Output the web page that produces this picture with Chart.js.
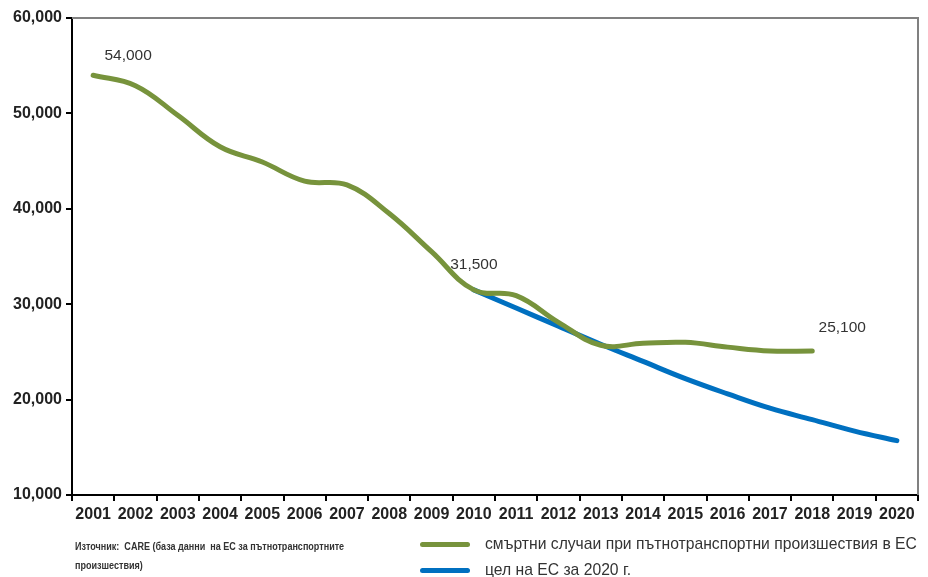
<!DOCTYPE html>
<html>
<head>
<meta charset="utf-8">
<script src="https://cdn.jsdelivr.net/npm/chart.js@4/dist/chart.umd.min.js"></script>
<style>
  html, body { margin: 0; padding: 0; background: #fff; }
  #wrap { position: relative; width: 928px; height: 577px; }
  #chart { position: absolute; left: 0; top: 0; }
  .source {
    position: absolute; left: 75px; top: 537px; white-space: nowrap;
    font-family: 'Liberation Sans Narrow', 'Liberation Sans', sans-serif;
    font-weight: bold; font-size: 10.5px; line-height: 19px; color: #333;
    transform: scaleX(0.86); transform-origin: left top;
  }
  .leg { position: absolute; left: 420px; display: flex; align-items: center; white-space: nowrap;
    font-family: 'Liberation Sans', Arial, sans-serif; font-size: 15.7px; color: #333; }
  .leg .swatch { width: 50px; height: 5px; border-radius: 3px; margin-right: 15px; }
</style>
</head>
<body>
<div id="wrap">
  <canvas id="chart" width="928" height="577"></canvas>
  <div class="source">Източник:&nbsp; CARE (база данни&nbsp; на ЕС за пътнотранспортните<br>произшествия)</div>
  <div class="leg" style="top:535px"><span class="swatch" style="background:#77933C"></span>смъртни случаи при пътнотранспортни произшествия в ЕС</div>
  <div class="leg" style="top:561px"><span class="swatch" style="background:#0070C0"></span>цел на ЕС за 2020 г.</div>
</div>
<script>
const years = ['2001', '2002', '2003', '2004', '2005', '2006', '2007', '2008', '2009', '2010',
  '2011', '2012', '2013', '2014', '2015', '2016', '2017', '2018', '2019', '2020'];
const fatalities = [54000, 52900, 49800, 46500, 44900, 42900, 42500, 39500, 35500, 31500,
  30900, 28100, 25700, 25900, 26000, 25500, 25100, 25100, null, null];
const target2020 = [null, null, null, null, null, null, null, null, null, 31500,
  29600, 27700, 25800, 24000, 22200, 20600, 19100, 17900, 16700, 15700];
const yTicks = [10000, 20000, 30000, 40000, 50000, 60000];
// indexes of green points that carry a value label
const labelledPoints = [0, 9, 17];
const labelOffsets = [[35, -20], [0, -25], [30, -23]];

const fmt = v => v.toLocaleString('en-US');
const axisFont = { family: "'Liberation Sans', Arial, sans-serif", size: 16, weight: 'bold' };

const frame = {
  id: 'frame',
  afterDraw(chart) {
    const { ctx, chartArea: a } = chart;
    ctx.save();
    ctx.strokeStyle = '#808080';
    ctx.lineWidth = 2;
    ctx.beginPath();
    ctx.moveTo(a.left, a.top);
    ctx.lineTo(a.right, a.top);
    ctx.lineTo(a.right, a.bottom);
    ctx.stroke();
    ctx.restore();
  }
};

const valueLabels = {
  id: 'valueLabels',
  afterDatasetsDraw(chart) {
    const { ctx } = chart;
    const meta = chart.getDatasetMeta(0);
    ctx.save();
    ctx.font = "15.5px 'Liberation Sans', Arial, sans-serif";
    ctx.fillStyle = '#333';
    ctx.textAlign = 'center';
    ctx.textBaseline = 'middle';
    labelledPoints.forEach((i, k) => {
      const p = meta.data[i];
      ctx.fillText(fmt(fatalities[i]), p.x + labelOffsets[k][0], p.y + labelOffsets[k][1]);
    });
    ctx.restore();
  }
};

new Chart(document.getElementById('chart'), {
  type: 'line',
  data: {
    labels: years,
    datasets: [
      {
        label: 'смъртни случаи при пътнотранспортни произшествия в ЕС',
        data: fatalities,
        borderColor: '#77933C',
        borderWidth: 5,
        tension: 0.4,
        pointRadius: 0,
        borderCapStyle: 'round',
      },
      {
        label: 'цел на ЕС за 2020 г.',
        data: target2020,
        borderColor: '#0070C0',
        borderWidth: 5,
        tension: 0.4,
        pointRadius: 0,
        borderCapStyle: 'round',
      },
    ],
  },
  options: {
    responsive: false,
    animation: false,
    layout: { padding: { top: 18, right: 10, left: 0, bottom: 0 } },
    plugins: { legend: { display: false }, tooltip: { enabled: false } },
    scales: {
      x: {
        offset: true,
        grid: { offset: true, drawOnChartArea: false, tickLength: 6, color: '#000', lineWidth: 2 },
        border: { color: '#000', width: 2 },
        ticks: { color: '#222', font: axisFont, maxRotation: 0, autoSkip: false, padding: 4 },
        afterFit: s => { s.height = 82; },
      },
      y: {
        min: 10000,
        max: 60000,
        afterBuildTicks: s => { s.ticks = yTicks.map(v => ({ value: v })); },
        grid: { drawOnChartArea: false, tickLength: 6, color: '#000', lineWidth: 2 },
        border: { color: '#000', width: 2 },
        ticks: { color: '#222', font: axisFont, padding: 4, callback: v => fmt(v) },
        afterFit: s => { s.width = 72; },
      },
    },
  },
  plugins: [frame, valueLabels],
});
</script>
</body>
</html>
